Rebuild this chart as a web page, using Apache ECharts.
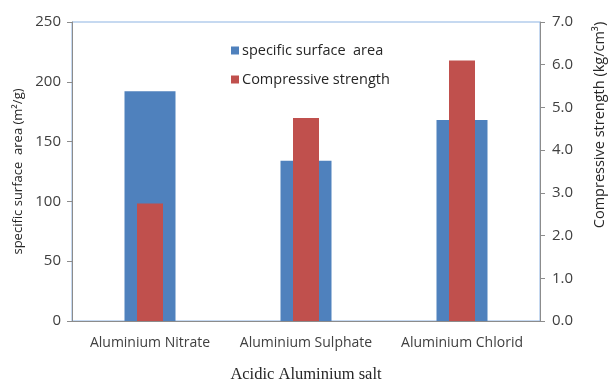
<!DOCTYPE html>
<html>
<head>
<meta charset="utf-8">
<script src="https://cdn.jsdelivr.net/npm/echarts@6/dist/echarts.min.js"></script>
<style>
  html, body { margin: 0; padding: 0; background: #ffffff; }
  #chart { width: 612px; height: 388px; }
</style>
</head>
<body>
<div id="chart"></div>
<script>
// Salt types on the x axis
const categories = ['Aluminium Nitrate', 'Aluminium Sulphate', 'Aluminium Chlorid'];
// Specific surface area, m²/g (left axis)
const surfaceArea = [192, 134, 168];
// Compressive strength, kg/cm³ (right axis)
const strength = [2.75, 4.75, 6.1];
// Axis tick ranges
const leftTicks = { min: 0, max: 250, interval: 50 };
const rightTicks = { min: 0, max: 7, interval: 1 };

const sansFont = '"Open Sans", "Noto Sans", sans-serif';
const labelColor = '#404040';
const axisGray = '#8c8c8c';

const chart = echarts.init(document.getElementById('chart'));

chart.setOption({
  animation: false,
  backgroundColor: '#ffffff',
  grid: {
    left: 72, right: 72, top: 22, bottom: 62,
    show: true, borderColor: '#8db3e2', borderWidth: 1, backgroundColor: 'transparent'
  },
  legend: {
    orient: 'vertical',
    left: 226, top: 38,
    itemWidth: 8, itemHeight: 8, itemGap: 14,
    icon: 'rect',
    textStyle: { fontFamily: sansFont, fontSize: 14.5, color: '#262626', padding: [0, 0, 0, -2] },
    data: ['specific surface  area', 'Compressive strength']
  },
  // Right-hand axis title, sitting above the axis midpoint
  graphic: [
    {
      type: 'text',
      x: 600, y: 125,
      rotation: Math.PI / 2,
      style: {
        text: 'Compressive strength (kg/cm³)',
        font: '14.5px "Open Sans", "Noto Sans", sans-serif',
        fill: '#262626',
        align: 'center',
        verticalAlign: 'middle'
      }
    }
  ],
  xAxis: [
    {
      type: 'category',
      data: categories,
      axisLine: { show: true, lineStyle: { color: axisGray, width: 1 } },
      axisTick: { show: false },
      axisLabel: { fontFamily: sansFont, fontSize: 14, color: labelColor, margin: 15, interval: 0 },
      name: 'Acidic Aluminium salt',
      nameLocation: 'middle',
      nameGap: 45,
      nameTextStyle: { fontFamily: '"Liberation Serif", "Times New Roman", serif', fontSize: 16.5, color: '#262626' }
    },
    {
      type: 'category',
      data: categories,
      show: false
    }
  ],
  yAxis: [
    {
      type: 'value',
      min: leftTicks.min, max: leftTicks.max, interval: leftTicks.interval,
      position: 'left',
      axisLine: { show: true, lineStyle: { color: axisGray, width: 1 } },
      axisTick: { show: true, length: 5, lineStyle: { color: axisGray } },
      splitLine: { show: false },
      axisLabel: { fontFamily: sansFont, fontSize: 15, color: labelColor, margin: 11 },
      name: 'specific surface  area (m²/g)',
      nameLocation: 'middle',
      nameGap: 44,
      nameRotate: 90,
      nameTextStyle: { fontFamily: sansFont, fontSize: 13, color: '#262626' }
    },
    {
      type: 'value',
      min: rightTicks.min, max: rightTicks.max, interval: rightTicks.interval,
      position: 'right',
      axisLine: { show: true, lineStyle: { color: axisGray, width: 1 } },
      axisTick: { show: true, length: 5, lineStyle: { color: axisGray } },
      splitLine: { show: false },
      axisLabel: {
        fontFamily: sansFont, fontSize: 15, color: labelColor, margin: 12,
        formatter: v => v.toFixed(1)
      }
    }
  ],
  series: [
    {
      name: 'specific surface  area',
      type: 'bar',
      xAxisIndex: 0,
      yAxisIndex: 0,
      data: surfaceArea,
      barWidth: 51,
      itemStyle: { color: '#4f81bd' }
    },
    {
      name: 'Compressive strength',
      type: 'bar',
      xAxisIndex: 1,
      yAxisIndex: 1,
      data: strength,
      barWidth: 26,
      itemStyle: { color: '#c0504d' }
    }
  ]
});
</script>
</body>
</html>
